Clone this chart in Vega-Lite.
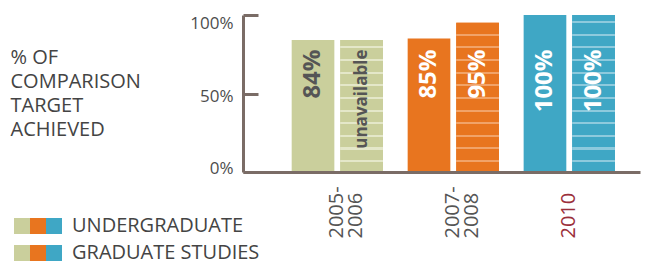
{
  "$schema": "https://vega.github.io/schema/vega-lite/v6.json",
  "width": 397,
  "height": 157,
  "autosize": {"type": "none"},
  "padding": {"left": 243, "top": 15, "right": 5, "bottom": 104},
  "background": "white",
  "config": {"view": {"stroke": null}, "font": "Open Sans"},
  "data": {"values": [
    {"year": "2005-2006", "series": "Undergraduate", "value": 84, "label": "84%"},
    {"year": "2005-2006", "series": "Graduate Studies", "value": 84, "label": "unavailable"},
    {"year": "2007-2008", "series": "Undergraduate", "value": 85, "label": "85%"},
    {"year": "2007-2008", "series": "Graduate Studies", "value": 95, "label": "95%"},
    {"year": "2010", "series": "Undergraduate", "value": 100, "label": "100%"},
    {"year": "2010", "series": "Graduate Studies", "value": 100, "label": "100%"}
  ]},
  "resolve": {"scale": {"fill": "independent"}, "legend": {"fill": "independent"}},
  "encoding": {
    "x": {
      "field": "year", "type": "nominal", "sort": null,
      "scale": {"paddingInner": 0.213, "paddingOuter": 0.318, "align": 0.66},
      "axis": {
        "title": null, "domainColor": "#7a6c66", "domainWidth": 3, "ticks": false,
        "labelAngle": -90, "labelAlign": "left", "labelBaseline": "middle", "labelPadding": 66,
        "labelFontSize": 20, "labelLineHeight": 19, "labelFont": "Open Sans",
        "labelColor": {"condition": {"test": "datum.value == '2010'", "value": "#9b2f3b"}, "value": "#555555"},
        "labelExpr": "datum.value == '2010' ? '2010' : [slice(datum.value, 0, 5), slice(datum.value, 5)]",
        "zindex": 1
      }
    },
    "xOffset": {"field": "series", "type": "nominal", "sort": ["Undergraduate", "Graduate Studies"], "scale": {"paddingInner": 0.122, "paddingOuter": 0}},
    "y": {
      "field": "value", "type": "quantitative", "scale": {"domain": [0, 100]},
      "axis": {
        "title": ["% OF", "COMPARISON", "TARGET", "ACHIEVED"],
        "titleAngle": 0, "titleAlign": "left", "titleBaseline": "alphabetic",
        "titleX": -233, "titleY": 48, "titleFontSize": 20, "titleFontWeight": "normal",
        "titleColor": "#444444", "titleLineHeight": 24, "titleFont": "Open Sans",
        "values": [0, 50, 100], "labelExpr": "datum.value + '%'",
        "labelFontSize": 17, "labelColor": "#4d4d4d", "labelFont": "Open Sans",
        "labelPadding": 25, "tickSize": -15, "tickWidth": 3, "tickColor": "#7a6c66",
        "domainColor": "#7a6c66", "domainWidth": 3, "grid": false, "zindex": 1,
        "labelOffset": {"condition": [{"test": "datum.value == 100", "value": 8}, {"test": "datum.value == 0", "value": -4}], "value": 3}
      }
    }
  },
  "layer": [
    {
      "transform": [{"filter": "datum.series == 'Undergraduate'"}],
      "mark": {"type": "bar", "strokeWidth": 0},
      "encoding": {
        "fill": {
          "field": "year", "type": "nominal", "sort": null,
          "scale": {"range": ["#cacf9c", "#e8751f", "#3fa7c5"]},
          "legend": {
            "orient": "none", "legendX": -229, "legendY": 203, "direction": "horizontal",
            "symbolType": "square", "symbolSize": 256, "symbolStrokeWidth": 0, "symbolOpacity": 1,
            "labelExpr": "''", "labelOffset": 0, "columnPadding": 0,
            "title": "UNDERGRADUATE", "titleOrient": "right", "titleFontSize": 20, "titleLimit": 400,
            "titleFontWeight": "normal", "titleColor": "#444444", "titlePadding": 10,
            "titleBaseline": "middle", "titleFont": "Open Sans", "padding": 0
          }
        }
      }
    },
    {
      "transform": [{"filter": "datum.series == 'Graduate Studies'"}],
      "mark": {"type": "bar", "strokeWidth": 0},
      "encoding": {
        "fill": {
          "field": "year", "type": "nominal", "sort": null,
          "scale": {"range": ["#cacf9c", "#e8751f", "#3fa7c5"]},
          "legend": {
            "orient": "none", "legendX": -229, "legendY": 230, "direction": "horizontal",
            "symbolType": "square", "symbolSize": 256, "symbolStrokeWidth": 0, "symbolOpacity": 1,
            "labelExpr": "''", "labelOffset": 0, "columnPadding": 0,
            "title": "GRADUATE STUDIES", "titleOrient": "right", "titleFontSize": 20, "titleLimit": 400,
            "titleFontWeight": "normal", "titleColor": "#444444", "titlePadding": 10,
            "titleBaseline": "middle", "titleFont": "Open Sans", "padding": 0
          }
        }
      }
    },
    {
      "transform": [{"filter": "datum.series == 'Graduate Studies'"}],
      "mark": {"type": "bar", "strokeWidth": 0},
      "encoding": {
        "fill": {
          "condition": [
            {"test": "datum.year == '2005-2006'", "value": {"gradient": "linear", "x1": 0, "y1": 0, "x2": 0, "y2": 1, "stops": [
              {"offset": 0, "color": "#cacf9c"},
              {"offset": 0.0469, "color": "#cacf9c"}, {"offset": 0.0469, "color": "#e4e7c9"}, {"offset": 0.0620, "color": "#e4e7c9"}, {"offset": 0.0620, "color": "#cacf9c"},
              {"offset": 0.1428, "color": "#cacf9c"}, {"offset": 0.1428, "color": "#e4e7c9"}, {"offset": 0.1579, "color": "#e4e7c9"}, {"offset": 0.1579, "color": "#cacf9c"},
              {"offset": 0.2387, "color": "#cacf9c"}, {"offset": 0.2387, "color": "#e4e7c9"}, {"offset": 0.2539, "color": "#e4e7c9"}, {"offset": 0.2539, "color": "#cacf9c"},
              {"offset": 0.3346, "color": "#cacf9c"}, {"offset": 0.3346, "color": "#e4e7c9"}, {"offset": 0.3498, "color": "#e4e7c9"}, {"offset": 0.3498, "color": "#cacf9c"},
              {"offset": 0.4305, "color": "#cacf9c"}, {"offset": 0.4305, "color": "#e4e7c9"}, {"offset": 0.4457, "color": "#e4e7c9"}, {"offset": 0.4457, "color": "#cacf9c"},
              {"offset": 0.5265, "color": "#cacf9c"}, {"offset": 0.5265, "color": "#e4e7c9"}, {"offset": 0.5416, "color": "#e4e7c9"}, {"offset": 0.5416, "color": "#cacf9c"},
              {"offset": 0.6224, "color": "#cacf9c"}, {"offset": 0.6224, "color": "#e4e7c9"}, {"offset": 0.6375, "color": "#e4e7c9"}, {"offset": 0.6375, "color": "#cacf9c"},
              {"offset": 0.7183, "color": "#cacf9c"}, {"offset": 0.7183, "color": "#e4e7c9"}, {"offset": 0.7335, "color": "#e4e7c9"}, {"offset": 0.7335, "color": "#cacf9c"},
              {"offset": 0.8142, "color": "#cacf9c"}, {"offset": 0.8142, "color": "#e4e7c9"}, {"offset": 0.8294, "color": "#e4e7c9"}, {"offset": 0.8294, "color": "#cacf9c"},
              {"offset": 0.9101, "color": "#cacf9c"}, {"offset": 0.9101, "color": "#e4e7c9"}, {"offset": 0.9253, "color": "#e4e7c9"}, {"offset": 0.9253, "color": "#cacf9c"},
              {"offset": 1, "color": "#cacf9c"}
            ]}},
            {"test": "datum.year == '2007-2008'", "value": {"gradient": "linear", "x1": 0, "y1": 0, "x2": 0, "y2": 1, "stops": [
              {"offset": 0, "color": "#e8751f"},
              {"offset": 0.0724, "color": "#e8751f"}, {"offset": 0.0724, "color": "#f1a369"}, {"offset": 0.0858, "color": "#f1a369"}, {"offset": 0.0858, "color": "#e8751f"},
              {"offset": 0.1572, "color": "#e8751f"}, {"offset": 0.1572, "color": "#f1a369"}, {"offset": 0.1706, "color": "#f1a369"}, {"offset": 0.1706, "color": "#e8751f"},
              {"offset": 0.2420, "color": "#e8751f"}, {"offset": 0.2420, "color": "#f1a369"}, {"offset": 0.2554, "color": "#f1a369"}, {"offset": 0.2554, "color": "#e8751f"},
              {"offset": 0.3269, "color": "#e8751f"}, {"offset": 0.3269, "color": "#f1a369"}, {"offset": 0.3403, "color": "#f1a369"}, {"offset": 0.3403, "color": "#e8751f"},
              {"offset": 0.4117, "color": "#e8751f"}, {"offset": 0.4117, "color": "#f1a369"}, {"offset": 0.4251, "color": "#f1a369"}, {"offset": 0.4251, "color": "#e8751f"},
              {"offset": 0.4965, "color": "#e8751f"}, {"offset": 0.4965, "color": "#f1a369"}, {"offset": 0.5099, "color": "#f1a369"}, {"offset": 0.5099, "color": "#e8751f"},
              {"offset": 0.5813, "color": "#e8751f"}, {"offset": 0.5813, "color": "#f1a369"}, {"offset": 0.5947, "color": "#f1a369"}, {"offset": 0.5947, "color": "#e8751f"},
              {"offset": 0.6661, "color": "#e8751f"}, {"offset": 0.6661, "color": "#f1a369"}, {"offset": 0.6795, "color": "#f1a369"}, {"offset": 0.6795, "color": "#e8751f"},
              {"offset": 0.7509, "color": "#e8751f"}, {"offset": 0.7509, "color": "#f1a369"}, {"offset": 0.7643, "color": "#f1a369"}, {"offset": 0.7643, "color": "#e8751f"},
              {"offset": 0.8357, "color": "#e8751f"}, {"offset": 0.8357, "color": "#f1a369"}, {"offset": 0.8491, "color": "#f1a369"}, {"offset": 0.8491, "color": "#e8751f"},
              {"offset": 0.9206, "color": "#e8751f"}, {"offset": 0.9206, "color": "#f1a369"}, {"offset": 0.9340, "color": "#f1a369"}, {"offset": 0.9340, "color": "#e8751f"},
              {"offset": 1, "color": "#e8751f"}
            ]}}
          ],
          "value": {"gradient": "linear", "x1": 0, "y1": 0, "x2": 0, "y2": 1, "stops": [
            {"offset": 0, "color": "#3fa7c5"},
            {"offset": 0.0382, "color": "#3fa7c5"}, {"offset": 0.0382, "color": "#8dcadd"}, {"offset": 0.0510, "color": "#8dcadd"}, {"offset": 0.0510, "color": "#3fa7c5"},
            {"offset": 0.1188, "color": "#3fa7c5"}, {"offset": 0.1188, "color": "#8dcadd"}, {"offset": 0.1315, "color": "#8dcadd"}, {"offset": 0.1315, "color": "#3fa7c5"},
            {"offset": 0.1994, "color": "#3fa7c5"}, {"offset": 0.1994, "color": "#8dcadd"}, {"offset": 0.2121, "color": "#8dcadd"}, {"offset": 0.2121, "color": "#3fa7c5"},
            {"offset": 0.2799, "color": "#3fa7c5"}, {"offset": 0.2799, "color": "#8dcadd"}, {"offset": 0.2927, "color": "#8dcadd"}, {"offset": 0.2927, "color": "#3fa7c5"},
            {"offset": 0.3605, "color": "#3fa7c5"}, {"offset": 0.3605, "color": "#8dcadd"}, {"offset": 0.3732, "color": "#8dcadd"}, {"offset": 0.3732, "color": "#3fa7c5"},
            {"offset": 0.4411, "color": "#3fa7c5"}, {"offset": 0.4411, "color": "#8dcadd"}, {"offset": 0.4538, "color": "#8dcadd"}, {"offset": 0.4538, "color": "#3fa7c5"},
            {"offset": 0.5217, "color": "#3fa7c5"}, {"offset": 0.5217, "color": "#8dcadd"}, {"offset": 0.5344, "color": "#8dcadd"}, {"offset": 0.5344, "color": "#3fa7c5"},
            {"offset": 0.6022, "color": "#3fa7c5"}, {"offset": 0.6022, "color": "#8dcadd"}, {"offset": 0.6150, "color": "#8dcadd"}, {"offset": 0.6150, "color": "#3fa7c5"},
            {"offset": 0.6828, "color": "#3fa7c5"}, {"offset": 0.6828, "color": "#8dcadd"}, {"offset": 0.6955, "color": "#8dcadd"}, {"offset": 0.6955, "color": "#3fa7c5"},
            {"offset": 0.7634, "color": "#3fa7c5"}, {"offset": 0.7634, "color": "#8dcadd"}, {"offset": 0.7761, "color": "#8dcadd"}, {"offset": 0.7761, "color": "#3fa7c5"},
            {"offset": 0.8439, "color": "#3fa7c5"}, {"offset": 0.8439, "color": "#8dcadd"}, {"offset": 0.8567, "color": "#8dcadd"}, {"offset": 0.8567, "color": "#3fa7c5"},
            {"offset": 0.9245, "color": "#3fa7c5"}, {"offset": 0.9245, "color": "#8dcadd"}, {"offset": 0.9373, "color": "#8dcadd"}, {"offset": 0.9373, "color": "#3fa7c5"},
            {"offset": 1, "color": "#3fa7c5"}
          ]}
        }
      }
    },
    {
      "mark": {"type": "text", "angle": 270, "align": "right", "baseline": "middle", "fontWeight": "bold", "font": "Open Sans"},
      "encoding": {
        "y": {"datum": 78, "type": "quantitative"},
        "text": {"field": "label"},
        "size": {"condition": {"test": "datum.label == 'unavailable'", "value": 17}, "value": 24},
        "color": {"condition": {"test": "datum.year == '2005-2006'", "value": "#555555"}, "value": "#ffffff"},
        "opacity": {
          "field": "year", "type": "ordinal", "sort": null,
          "scale": {"range": [1, 1, 1]},
          "legend": {
            "orient": "none", "legendX": -229, "legendY": 230, "direction": "horizontal",
            "symbolType": "M-1,-1L-1,-1M1,1L1,1M-1,-0.7H1V-0.48H-1Z M-1,-0.08H1V0.14H-1Z M-1,0.52H1V0.74H-1Z",
            "symbolSize": 256, "symbolStrokeWidth": 0,
            "labelExpr": "''", "labelOffset": 0, "columnPadding": 0,
            "title": null, "padding": 0,
            "encode": {"symbols": {
              "fill": {"value": "#ffffff"},
              "fillOpacity": {"value": 0.45},
              "opacity": {"value": 1},
              "stroke": {"value": "transparent"},
              "strokeWidth": {"value": 0}
            }}
          }
        }
      }
    }
  ]
}
